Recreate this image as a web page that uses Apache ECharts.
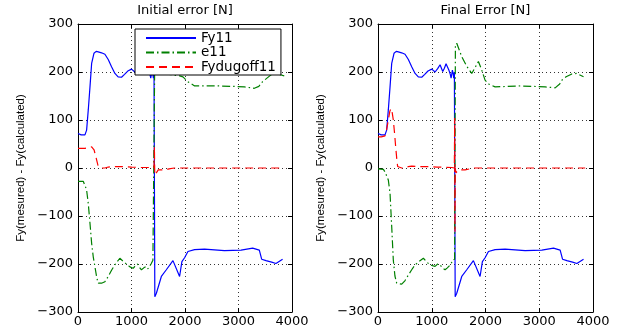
<!DOCTYPE html>
<html><head><meta charset="utf-8">
<script src="https://cdn.jsdelivr.net/npm/echarts@6/dist/echarts.min.js"></script>
<style>html,body{margin:0;padding:0;background:#fff}#c{width:621px;height:330px}</style>
</head><body><div id="c"></div>
<script>
// ---- data ----
var titles = ['Initial error [N]', 'Final Error [N]'];
var yLabel = 'Fy(mesured) - Fy(calculated)';
var seriesNames = ['Fy11', 'e11', 'Fydugoff11'];
var xTicks = [0, 1000, 2000, 3000, 4000];
var yTicks = [-300, -200, -100, 0, 100, 200, 300];

// Fy11 (same in both panels)
var fyX = [0, 60, 130, 161, 192, 224, 255, 298, 340, 378, 440, 503, 565, 627, 690, 750, 813, 870, 930, 1000, 1062, 1110, 1155, 1180, 1205, 1235, 1266, 1295, 1322, 1345, 1360, 1384, 1400, 1409, 1421, 1430, 1436, 1465, 1558, 1651, 1775, 1899, 1942, 1992, 2055, 2179, 2365, 2737, 3048, 3265, 3389, 3433, 3514, 3620, 3700, 3824];
var fyY = [72, 69, 69, 79, 121, 169, 218, 239, 243, 242, 240, 237, 226, 211, 197, 190, 189, 195, 202, 206, 200, 207, 215, 208, 201, 208, 217, 210, 203, 195, 187, 204, 195, 187, 200, 200, -268, -261, -226, -212, -193, -226, -195, -187, -174, -170, -169, -172, -171, -167, -171, -190, -193, -196, -199, -190];

// e11, initial
var e1X = [0, 100, 130, 160, 192, 224, 255, 285, 317, 350, 378, 440, 503, 565, 627, 700, 782, 850, 906, 970, 1031, 1070, 1111, 1150, 1186, 1230, 1279, 1310, 1341, 1365, 1400, 1425, 1432, 1480, 1600, 1775, 1900, 1962, 2050, 2180, 2400, 2613, 2900, 3110, 3296, 3380, 3451, 3607, 3700, 3855];
var e1Y = [-28, -28, -32, -45, -74, -115, -157, -185, -206, -228, -240, -240, -237, -226, -213, -200, -188, -195, -200, -206, -209, -204, -200, -207, -212, -208, -205, -210, -212, -200, -192, -190, 195, 198, 196, 194, 192, 190, 180, 171, 171, 171, 170, 169, 166, 170, 180, 194, 197, 192];

// e11, final
var e2X = [0, 100, 130, 160, 192, 224, 255, 285, 315, 348, 441, 500, 565, 627, 689, 760, 844, 900, 968, 1062, 1110, 1155, 1200, 1248, 1290, 1322, 1360, 1384, 1425, 1440, 1465, 1558, 1650, 1744, 1810, 1868, 1899, 1930, 1992, 2060, 2179, 2400, 2613, 2900, 3110, 3296, 3380, 3420, 3500, 3607, 3700, 3824];
var e2Y = [-2, -3, -8, -12, -25, -53, -122, -192, -225, -240, -242, -235, -223, -212, -202, -195, -188, -195, -202, -205, -200, -202, -208, -212, -208, -205, -200, -192, -190, 255, 260, 232, 212, 197, 210, 222, 225, 204, 183, 175, 169, 170, 171, 170, 169, 167, 175, 183, 190, 196, 197, 190];

// Fydugoff11, initial
var d1X = [0, 130, 200, 255, 300, 330, 348, 378, 440, 503, 565, 627, 750, 875, 1000, 1186, 1372, 1420, 1428, 1433, 1436, 1450, 1500, 1620, 1700, 1800, 3855];
var d1Y = [41, 41, 43, 44, 38, 25, 17, 3, 0, 0, 2, 3, 3, 3, 2, 1, 1, 0, 44, 0, -15, -12, -4, -4, -2, 0, 0];

// Fydugoff11, final
var d2X = [0, 60, 130, 160, 192, 220, 242, 265, 285, 310, 329, 350, 366, 440, 503, 565, 627, 750, 938, 1100, 1372, 1420, 1427, 1432, 1437, 1450, 1500, 1620, 1700, 1800, 3855];
var d2Y = [65, 65, 67, 80, 100, 118, 124, 115, 100, 70, 44, 18, 3, 0, 0, 3, 4, 3, 3, 2, 1, 0, 104, -133, 0, -10, -4, -4, -2, 0, 0];

function zip(xs, ys) { return xs.map(function (x, i) { return [x, ys[i]]; }); }

var colors = { Fy11: '#0000ff', e11: '#008000', Fydugoff11: '#ff0000' };
var dashes = { Fy11: 'solid', e11: [8, 3, 1.5, 3], Fydugoff11: [8, 5] };

var panels = [
  { fy: zip(fyX, fyY), e: zip(e1X, e1Y), d: zip(d1X, d1Y) },
  { fy: zip(fyX, fyY), e: zip(e2X, e2Y), d: zip(d2X, d2Y) }
];

var grids = [
  { left: 78, top: 24, width: 214, height: 288 },
  { left: 378, top: 24, width: 215, height: 288 }
];
var fontFam = 'DejaVu Sans, sans-serif';
var labelFam = 'Liberation Sans, Arial, sans-serif';
function fmt(v) { return String(v).replace('-', '\u2212'); }

var xAxes = [], yAxes = [], series = [], graphics = [];
grids.forEach(function (g, i) {
  var base = { type: 'value', gridIndex: i, min: xTicks[0], max: xTicks[xTicks.length - 1], interval: 1000 };
  xAxes.push(Object.assign({}, base, {
    position: 'bottom',
    axisLine: { show: true, onZero: false, lineStyle: { color: '#000', width: 1 } },
    axisTick: { show: true, inside: true, length: 4, lineStyle: { color: '#000' } },
    axisLabel: { color: '#000', fontSize: 13, fontFamily: fontFam, margin: 3, formatter: fmt },
    splitLine: { show: true, lineStyle: { color: '#000', type: [1, 3], width: 1, opacity: 0.8 } }
  }));
  xAxes.push(Object.assign({}, base, {
    position: 'top',
    axisLine: { show: true, onZero: false, lineStyle: { color: '#000', width: 1 } },
    axisTick: { show: true, inside: true, length: 4, lineStyle: { color: '#000' } },
    axisLabel: { show: false }, splitLine: { show: false }
  }));
  var ybase = { type: 'value', gridIndex: i, min: yTicks[0], max: yTicks[yTicks.length - 1], interval: 100 };
  yAxes.push(Object.assign({}, ybase, {
    position: 'left',
    name: yLabel, nameLocation: 'middle', nameGap: 51,
    nameTextStyle: { color: '#000', fontSize: 11.5, fontFamily: labelFam },
    axisLine: { show: true, onZero: false, lineStyle: { color: '#000', width: 1 } },
    axisTick: { show: true, inside: true, length: 4, lineStyle: { color: '#000' } },
    axisLabel: { color: '#000', fontSize: 13, fontFamily: fontFam, margin: 5, formatter: fmt },
    splitLine: { show: true, lineStyle: { color: '#000', type: [1, 3], width: 1, opacity: 0.8 } }
  }));
  yAxes.push(Object.assign({}, ybase, {
    position: 'right',
    axisLine: { show: true, onZero: false, lineStyle: { color: '#000', width: 1 } },
    axisTick: { show: true, inside: true, length: 4, lineStyle: { color: '#000' } },
    axisLabel: { show: false }, splitLine: { show: false }
  }));
  var p = panels[i];
  [['Fy11', p.fy], ['e11', p.e], ['Fydugoff11', p.d]].forEach(function (s) {
    series.push({
      name: s[0], type: 'line', xAxisIndex: i * 2, yAxisIndex: i * 2,
      data: s[1], symbol: 'none', smooth: false, animation: false,
      lineStyle: { color: colors[s[0]], width: 1.2, type: dashes[s[0]] },
      itemStyle: { color: colors[s[0]] }
    });
  });
  graphics.push({
    type: 'text', x: g.left + g.width / 2, y: 4,
    style: { text: titles[i], fill: '#000', font: '13px ' + fontFam, textAlign: 'center', textVerticalAlign: 'top' }
  });
});

var chart = echarts.init(document.getElementById('c'), null, { renderer: 'canvas' });
chart.setOption({
  animation: false,
  backgroundColor: '#fff',
  grid: grids,
  xAxis: xAxes,
  yAxis: yAxes,
  series: series,
  graphic: graphics,
  legend: {
    data: seriesNames, orient: 'vertical', left: 135, top: 29,
    itemWidth: 50, itemHeight: 14, itemGap: 0.5,
    padding: [2, 5, 1, 10],
    itemStyle: { opacity: 0 },
    backgroundColor: '#fff', borderColor: '#000', borderWidth: 1, borderRadius: 0,
    textStyle: { color: '#000', fontSize: 13.5, fontFamily: fontFam },
    selectedMode: false
  }
});
</script></body></html>
